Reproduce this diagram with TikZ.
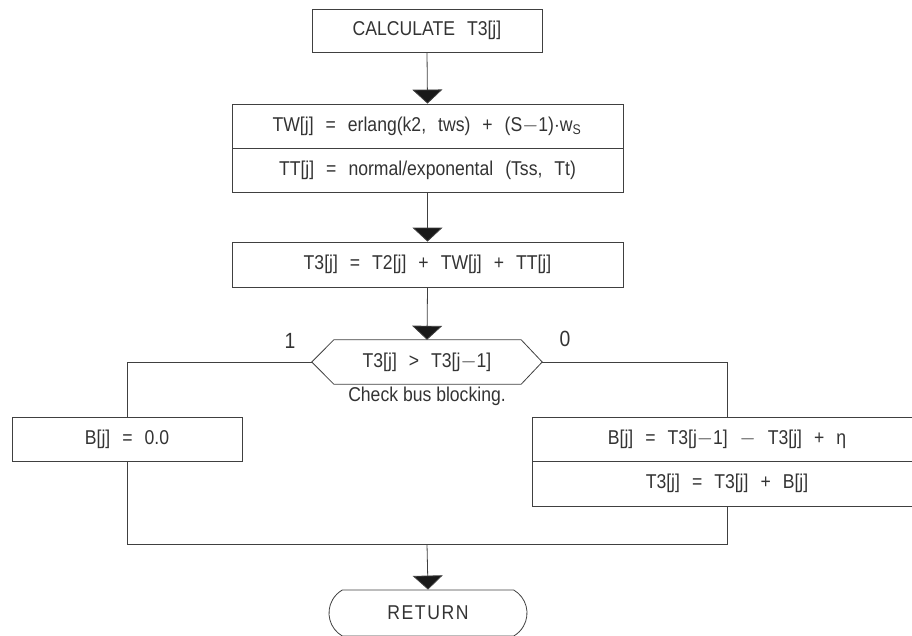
\documentclass[tikz,border=0pt]{standalone}
\usepackage{fontspec}
\setmainfont{Liberation Sans}[FakeStretch=0.88]
\usetikzlibrary{arrows.meta,shapes.misc,calc}
% wide gap used between the terms of each formula
\newcommand{\tg}{\hspace{12pt}}
\begin{document}
\begin{tikzpicture}[x=1pt,y=-1pt,
  font=\fontsize{20}{22}\selectfont,
  every node/.style={text=black!80},
  line/.style={draw=black!75,line width=0.8pt},
  flow/.style={line,-{Triangle[width=30pt,length=14pt,fill=black!90]}},
  box/.style={line,rectangle,inner sep=0pt,minimum height=44pt},
  wide/.style={box,minimum width=391pt},
  narrow/.style={box,minimum width=230pt},
  term/.style={line,rounded rectangle,rounded rectangle arc length=120,
    inner sep=0pt,minimum width=198pt,minimum height=46pt},
  lbl/.style={inner sep=0pt}]
\useasboundingbox (0,0) rectangle (912,635);
\clip (0,0) rectangle (912,635);

% main column
\node[narrow,minimum height=43pt] (calc) at (427,30.5) {CALCULATE\tg T3[j]};
\node[wide] (tw) at (427.5,126) {TW[j]\tg=\tg erlang(k2,\tg tws)\tg+\tg(S$-$1)$\cdot$w$_{\mathrm{S}}$};
\node[wide] (tt) at (427.5,170) {TT[j]\tg=\tg normal/exponental\tg(Tss,\tg Tt)};
\node[wide,minimum height=45pt] (t3) at (427.5,264.5) {T3[j]\tg=\tg T2[j]\tg+\tg TW[j]\tg+\tg TT[j]};

% decision
\node[inner sep=0pt,minimum width=230pt,minimum height=44pt] (dec) at (427,362)
  {T3[j]\tg>\tg T3[j$-$1]};
\draw[line] (dec.west) -- ([xshift=22pt]dec.north west) -- ([xshift=-21pt]dec.north east)
  -- (dec.east) -- ([xshift=-21pt]dec.south east) -- ([xshift=22pt]dec.south west) -- cycle;
\node[lbl] (note) at (427,396) {Check bus blocking.};
\node[lbl,font=\fontsize{22}{24}\selectfont] (one) at (290,341) {1};
\node[lbl,font=\fontsize{22}{24}\selectfont] (zero) at (565,339) {0};

% branches
\node[narrow] (bz) at (127,439) {B[j]\tg=\tg 0.0};
\node[box,minimum width=390pt] (bc) at (727,439) {B[j]\tg=\tg T3[j$-$1]\tg$-$\tg T3[j]\tg+\tg η};
\node[box,minimum width=390pt,minimum height=45pt] (bu) at (727,483.5) {T3[j]\tg=\tg T3[j]\tg+\tg B[j]};

\coordinate (lt) at (127,362);
\coordinate (rt) at (727,362);
\coordinate (lb) at (127,544);
\coordinate (rb) at (727,544);
\coordinate (mb) at (427,544);

\node[term] (ret) at (428,613) {\addfontfeature{LetterSpace=8}RETURN};

% connectors
\draw[flow] (calc.south) -- (tw.north);
\draw[flow] (tt.south) -- (t3.north);
\draw[flow] (t3.south) -- (dec.north);
\draw[line] (dec.west) -- (lt) -- (bz.north);
\draw[line] (dec.east) -- (rt) -- (bc.north);
\draw[line] (bz.south) -- (lb) -- (rb) -- (bu.south);
\draw[flow] (mb) -- (ret.north);
\end{tikzpicture}
\end{document}
